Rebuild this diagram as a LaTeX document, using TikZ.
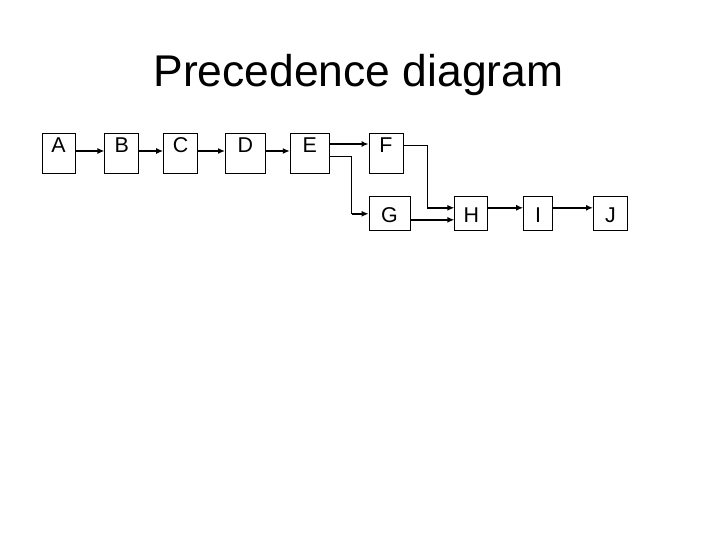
\documentclass[tikz,border=0pt]{standalone}
\usepackage{fontspec}
\setmainfont{Liberation Sans}
\usetikzlibrary{positioning,arrows.meta}

\begin{document}
\begin{tikzpicture}[x=1bp,y=-1bp,
 box/.style={draw=black,line width=0.8bp,inner sep=0pt,minimum width=34bp,
 font=\fontsize{21.5}{24}\selectfont},
 upper/.style={box,minimum height=40bp,text height=15bp,text depth=16bp},
 lower/.style={box,minimum height=34bp,text height=18bp,text depth=0bp},
 arr/.style={-{Latex[length=7bp,width=6bp]},line width=1.8bp},
 link/.style={line width=0.9bp}]
\useasboundingbox[fill=white] (0,0) rectangle (720,540);
\node[anchor=base,font=\fontsize{44.6}{50}\selectfont] (title) at (358.5,87) {Precedence diagram};
\node[upper,minimum width=33bp] (A) at (58.5,153) {A};
\node[upper,right=29bp of A] (B) {B};
\node[upper,right=24bp of B] (C) {C};
\node[upper,minimum width=40bp,right=27bp of C] (D) {D};
\node[upper,minimum width=39bp,right=24bp of D] (E) {E};
\node[upper,right=39bp of E] (F) {F};
\node[lower,minimum width=41bp,anchor=north west] (G) at ([yshift=-23bp]F.south west) {G};
\node[lower,minimum width=33bp,right=44bp of G] (H) {H};
\node[lower,minimum width=29bp,right=35bp of H] (I) {I};
\node[lower,right=40bp of I] (J) {J};
\coordinate (h1) at ([yshift=6bp]H.west);
\coordinate (h2) at ([yshift=-6bp]H.west);
\draw[arr] ([yshift=2bp]A.east)--([yshift=2bp]B.west); \draw[arr] ([yshift=2bp]B.east)--([yshift=2bp]C.west);
\draw[arr] ([yshift=2bp]C.east)--([yshift=2bp]D.west); \draw[arr] ([yshift=2bp]D.east)--([yshift=2bp]E.west);
\draw[arr] ([yshift=9bp]E.east)--([yshift=9bp]F.west);
\draw[link] ([yshift=-3bp]E.east) -- ++(22,0) coordinate (e1)
 -- (e1 |- G.west) coordinate (e2);
\draw[arr] (e2)--(G.west);
\draw[link] ([yshift=8bp]F.east) -- ++(24,0) coordinate (f1)
 -- (f1 |- h1) coordinate (f2);
\draw[arr] (f2)--(h1); \draw[arr] ([yshift=-6bp]G.east)--(h2);
\draw[arr] ([yshift=6bp]H.east)--([yshift=6bp]I.west); \draw[arr] ([yshift=6bp]I.east)--([yshift=6bp]J.west);
\end{tikzpicture}
\end{document}
